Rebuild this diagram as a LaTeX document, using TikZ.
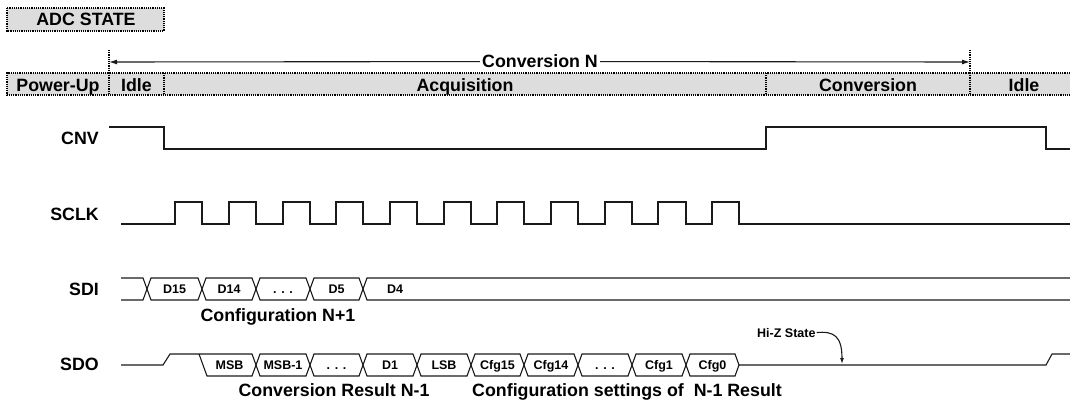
\documentclass[tikz,border=0pt]{standalone}
\usepackage{fontspec}
\setmainfont{Liberation Sans}
\usetikzlibrary{arrows.meta}
\definecolor{hdrgray}{HTML}{DDDDDD}
\definecolor{wavecol}{HTML}{1A1A1A}
\begin{document}
\begin{tikzpicture}[x=1pt,y=-1pt,
  hdrline/.style={draw=black,line width=1.4pt,dash pattern=on 1.2pt off 1pt},
  big/.style={font=\bfseries\fontsize{17.8}{20}\selectfont,inner sep=0pt,anchor=base},
  sig/.style={big,anchor=base east},
  small/.style={font=\bfseries\fontsize{12.5}{14}\selectfont,inner sep=0pt,anchor=base},
  wave/.style={draw=wavecol,line width=1.1pt},
  tip/.style={-{Latex[length=8pt,width=5pt]}},
]
\useasboundingbox (0,0) rectangle (1070,402);

% ADC STATE
\fill[hdrgray] (7,8) rectangle (164,31);
\draw[hdrline] (7,8) rectangle (164,31);
\node[big] (adc) at (86,25) {ADC STATE};

% state row
\fill[hdrgray] (7,73) rectangle (1070,95);
\draw[hdrline] (1070,73) -- (7,73) -- (7,95) -- (1070,95);
\foreach \x in {109,164,766,970}
  \draw[hdrline] (\x,73) -- (\x,95);
\draw[hdrline] (109,50) -- (109,73);
\draw[hdrline] (970,50) -- (970,73);
\node[big] (pu) at (58,91) {Power-Up};
\node[big] (idle1) at (136.5,91) {Idle};
\node[big] (acq) at (465,91) {Acquisition};
\node[big] (conv) at (868,91) {Conversion};
\node[big] (idle2) at (1024,91) {Idle};

% Conversion N span
\coordinate (cl) at (109,62);
\coordinate (cr) at (970,62);
\node[big,fill=white,inner xsep=2pt,anchor=center] (convn) at (540,61.5) {Conversion N};
\draw[wave,tip] (convn) -- (cl);
\draw[wave,tip] (convn) -- (cr);

% signal labels
\node[sig] (lcnv) at (99,144) {CNV};
\node[sig] (lsclk) at (99,220) {SCLK};
\node[sig] (lsdi) at (99,295) {SDI};
\node[sig] (lsdo) at (99,370.5) {SDO};

% CNV
\draw[wave] (109,127) -- (164,127) -- (164,149) -- (766,149) -- (766,127) -- (1046,127) -- (1046,149) -- (1070,149);

% SCLK
\draw[wave] (121,224)
  \foreach \r/\f in {175/202,229/256,283/310,336/363,390/417,444/471,497/524,551/578,605/632,658/686,712/739}
  { -- (\r,224) -- (\r,202) -- (\f,202) -- (\f,224) } -- (1070,224);

% SDI bus
\draw[wave] (121,278) -- (143,278) -- (147,289) -- (143,300) -- (121,300);
\foreach \l/\r in {147/202,202/256,256/310,310/363}
  \draw[wave] (\l,289) -- (\l+4,278) -- (\r-4,278) -- (\r,289) -- (\r-4,300) -- (\l+4,300) -- cycle;
\draw[wave] (1070,278) -- (367,278) -- (363,289) -- (367,300) -- (1070,300);
\node[small] (d15) at (174.5,293.5) {D15};
\node[small] (d14) at (229,293.5) {D14};
\node[small] (ddi) at (283,293.5) {. . .};
\node[small] (d5) at (336.5,293.5) {D5};
\node[small] (d4) at (395,293.5) {D4};
\node[big] (cfgn) at (278,321.5) {Configuration N+1};

% SDO bus
\draw[wave] (121,365) -- (163,365) -- (170,354) -- (252,354) -- (256,365) -- (252,376) -- (207,376) -- (199,354);
\foreach \l/\r in {256/310,310/363,363/417,417/471,471/524,524/578,578/632,632/686,686/739}
  \draw[wave] (\l,365) -- (\l+4,354) -- (\r-4,354) -- (\r,365) -- (\r-4,376) -- (\l+4,376) -- cycle;
\draw[wave] (739,365) -- (1046,365) -- (1052,354) -- (1070,354);
\node[small] (msb) at (229.5,369.5) {MSB};
\node[small] (msb1) at (283,369.5) {MSB-1};
\node[small] (ddo1) at (336.5,369.5) {. . .};
\node[small] (d1) at (390,369.5) {D1};
\node[small] (lsb) at (444,369.5) {LSB};
\node[small] (c15) at (497.5,369.5) {Cfg15};
\node[small] (c14) at (551,369.5) {Cfg14};
\node[small] (ddo2) at (605,369.5) {. . .};
\node[small] (c1) at (659,369.5) {Cfg1};
\node[small] (c0) at (712.5,369.5) {Cfg0};
\node[big] (cres) at (334,396.5) {Conversion Result N-1};
\node[big] (cset) at (627,396.5) {Configuration settings of~~N-1 Result};

% Hi-Z annotation
\node[small,anchor=base west] (hiz) at (757,337) {Hi-Z State};
\coordinate (hzpt) at (842,364);
\draw[wave,-{Latex[length=6pt,width=4pt]}] ([xshift=1pt]hiz.east) .. controls (834,331) and (842,336) .. (hzpt);
\end{tikzpicture}
\end{document}
